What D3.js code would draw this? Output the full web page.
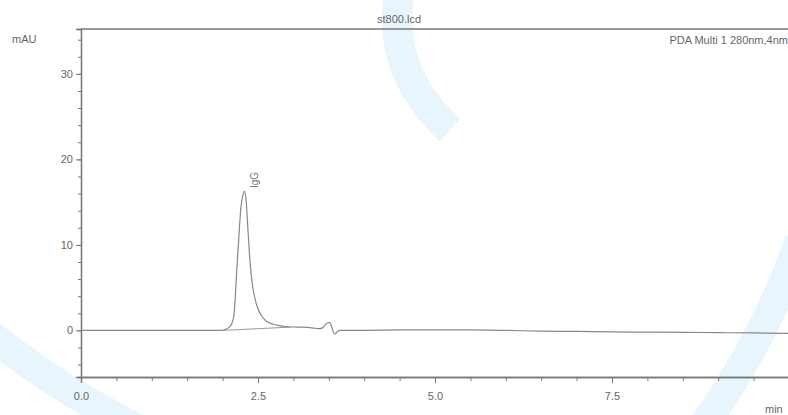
<!DOCTYPE html>
<html>
<head>
<meta charset="utf-8">
<script src="https://cdn.jsdelivr.net/npm/d3@7"></script>
<style>
  body { margin: 0; background: #fff; }
  svg { display: block; font-family: 'Liberation Sans', Arial, sans-serif; }
</style>
</head>
<body>
<svg width="788" height="415"></svg>
<script>
// chromatogram trace, time in min, signal in mAU
var times = [0, 1.0, 1.95, 2.0, 2.05, 2.1, 2.13, 2.16, 2.18, 2.2, 2.23, 2.26, 2.29, 2.31,
  2.33, 2.36, 2.39, 2.42, 2.46, 2.5, 2.56, 2.63, 2.71, 2.8, 2.9, 3.0, 3.1, 3.2, 3.3, 3.36,
  3.41, 3.46, 3.5, 3.53, 3.56, 3.59, 3.62, 3.66, 4.0, 4.5, 5.0, 5.5, 6.0, 6.5, 7.0, 7.5,
  8.0, 8.5, 9.0, 9.5, 10.0]
var signal = [0, 0, 0, 0.02, 0.15, 0.4, 0.8, 1.8, 4, 7, 11, 14.5, 15.9, 16.3,
  15.4, 11.5, 7.8, 5.4, 3.6, 2.5, 1.6, 1.0, 0.75, 0.55, 0.45, 0.4, 0.38, 0.35, 0.25, 0.2,
  0.3, 0.75, 0.95, 0.7, -0.1, -0.4, -0.15, 0, 0, 0.05, 0.05, 0.05, 0, -0.08, -0.12, -0.18,
  -0.2, -0.22, -0.26, -0.3, -0.35]

// integration baseline under the IgG peak
var baseTimes = [1.99, 2.95]
var baseValues = [0, 0.38]

var peakNames = ['IgG']
var peakTimes = [2.31]
var peakValues = [16.3]

var xTicks = [0, 2.5, 5, 7.5]
var yTicks = [0, 10, 20, 30]

var svg = d3.select('svg')
var padL = 81, padR = 789, padT = 29, padB = 377

var x = d3.scaleLinear().domain([0, 10]).range([padL, padR])
var y = d3.scaleLinear().domain([-5.45, 35.25]).range([padB, padT])

// faint watermark bands
var wm = svg.append('g').attr('fill', 'none').attr('stroke', '#e9f5fc').attr('stroke-width', 30)
wm.append('path').attr('d', 'M-10,335 Q60,390 140,430')
wm.append('path').attr('d', 'M700,430 Q765,340 800,240')
wm.append('path').attr('d', 'M400,-10 Q385,70 450,130')

// frame
svg.append('line').attr('x1', padL).attr('x2', 788).attr('y1', padT).attr('y2', padT)
  .attr('stroke', '#777').attr('stroke-width', 1.3)

var xAxis = svg.append('g').attr('transform', 'translate(0,' + padB + ')')
xAxis.append('g')
  .call(d3.axisBottom(x).tickValues(d3.range(0, 10.01, 0.5)).tickSize(4).tickFormat(''))
xAxis.append('g')
  .call(d3.axisBottom(x).tickValues(xTicks).tickSize(6).tickPadding(9).tickFormat(d3.format('.1f')))

var yAxis = svg.append('g').attr('transform', 'translate(' + padL + ',0)')
yAxis.append('g')
  .call(d3.axisLeft(y).tickValues(d3.range(-4, 35, 2)).tickSize(3).tickFormat(''))
yAxis.append('g')
  .call(d3.axisLeft(y).tickValues(yTicks).tickSize(5).tickPadding(3))

svg.selectAll('.domain').attr('stroke', '#777').attr('stroke-width', 1.3)
svg.selectAll('.tick line').attr('stroke', '#777')
svg.selectAll('.tick text').attr('fill', '#666').style('font-size', '11px')
  .style('font-family', "'Liberation Sans', Arial, sans-serif")

// trace
var pts = times.map(function(t, i) { return [t, signal[i]] })
var line = d3.line()
  .x(function(d) { return x(d[0]) })
  .y(function(d) { return y(d[1]) })
  .curve(d3.curveMonotoneX)

svg.append('path').datum(pts)
  .attr('fill', 'none').attr('stroke', '#888').attr('stroke-width', 1.2)
  .attr('d', line)

svg.append('path').datum(baseTimes.map(function(t, i) { return [t, baseValues[i]] }))
  .attr('fill', 'none').attr('stroke', '#999').attr('stroke-width', 1)
  .attr('d', d3.line().x(function(d) { return x(d[0]) }).y(function(d) { return y(d[1]) }))

// peak labels
peakNames.forEach(function(n, i) {
  var px = x(peakTimes[i]) + 13, py = y(peakValues[i]) - 3
  svg.append('text')
    .attr('transform', 'translate(' + px + ',' + py + ') rotate(-90)')
    .attr('fill', '#777').style('font-size', '10px')
    .text(n)
})

// texts
svg.append('text').attr('x', 399).attr('y', 23).attr('text-anchor', 'middle')
  .attr('fill', '#666').style('font-size', '11px').text('st800.lcd')
svg.append('text').attr('x', 788).attr('y', 44).attr('text-anchor', 'end')
  .attr('fill', '#666').style('font-size', '11px').text('PDA Multi 1 280nm,4nm')
svg.append('text').attr('x', 12).attr('y', 43)
  .attr('fill', '#666').style('font-size', '11px').text('mAU')
svg.append('text').attr('x', 765).attr('y', 413)
  .attr('fill', '#666').style('font-size', '11px').text('min')
</script>
</body>
</html>
